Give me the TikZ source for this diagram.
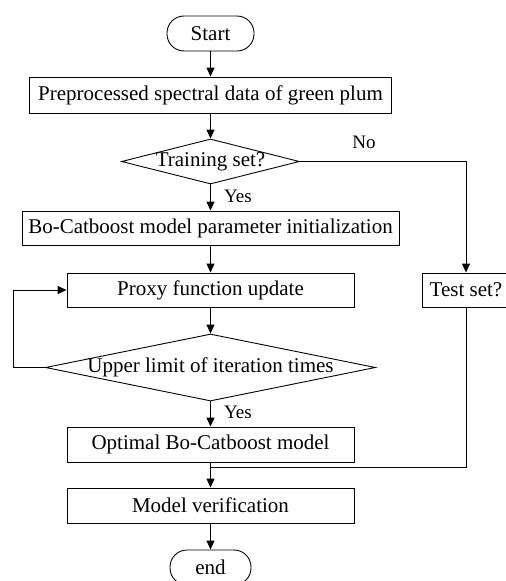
\documentclass[tikz,border=0pt]{standalone}
\usepackage{fontspec}
\setmainfont{Liberation Serif}
\usetikzlibrary{arrows.meta,shapes.geometric}
\begin{document}
\begin{tikzpicture}[x=1pt,y=-1pt,
  every node/.style={font=\fontsize{21}{25}\selectfont, inner sep=0pt},
  boxnode/.style={draw, line width=0.9pt, rectangle, minimum height=34pt},
  termnode/.style={draw, line width=0.9pt, rectangle, rounded corners=17pt, minimum height=35pt},
  decnode/.style={draw, line width=0.9pt, diamond},
  lbl/.style={font=\fontsize{19}{22}\selectfont},
  conn/.style={line width=0.9pt, -{Triangle[length=9pt,width=8pt]}},
  plain/.style={line width=0.9pt}]
\useasboundingbox (0,0) rectangle (506,581);
\node[termnode, minimum width=87pt] (start) at (210.5,33.5) {Start};
\node[boxnode, minimum width=362pt, minimum height=36pt] (prep) at (210.5,95) {Preprocessed spectral data of green plum};
\node[decnode, minimum width=178pt, minimum height=45pt] (train) at (210.5,161.5) {\makebox[0pt]{Training set?}};
\node[boxnode, minimum width=377pt] (bo) at (210.5,228) {Bo-Catboost model parameter initialization};
\node[boxnode, minimum width=287pt] (proxy) at (210.5,290) {Proxy function update};
\node[boxnode, minimum width=88pt] (test) at (466,290) {Test set?};
\node[decnode, minimum width=330pt, minimum height=67pt] (upper) at (210.5,367.5) {\makebox[0pt]{Upper limit of iteration times}};
\node[boxnode, minimum width=287pt, minimum height=35pt] (opt) at (210.5,444.5) {Optimal Bo-Catboost model};
\node[boxnode, minimum width=287pt, minimum height=35pt] (verif) at (210.5,505.5) {Model verification};
\node[termnode, minimum width=81pt] (end) at (210.5,567.5) {end};
\node[lbl] (no) at (364,142) {No};
\node[lbl] (yes1) at (238,196) {Yes};
\node[lbl] (yes2) at (238,412) {Yes};
\coordinate (tr) at (466,161.5);
\coordinate (l1) at (13,367.5);
\coordinate (l2) at (13,290);
\coordinate (join) at (210.5,467);
\draw[conn] (start) -- (prep);
\draw[conn] (prep) -- (train);
\draw[conn] (train) -- (bo);
\draw[conn] (bo) -- (proxy);
\draw[conn] (proxy) -- (upper);
\draw[conn] (upper) -- (opt);
\draw[conn] (opt) -- (verif);
\draw[conn] (verif) -- (end);
\draw[conn] (train.east) -- (tr) -- (test.north);
\draw[plain] (test.south) |- (join);
\draw[conn] (upper.west) -- (l1) -- (l2) -- (proxy.west);
\end{tikzpicture}
\end{document}
